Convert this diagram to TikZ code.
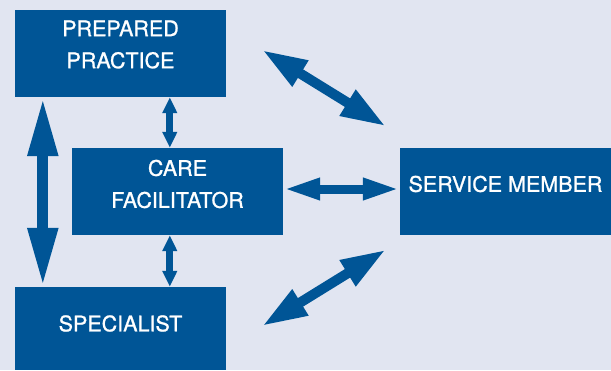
\documentclass[tikz,border=0pt]{standalone}
\usepackage{fontspec}
\setmainfont{TeX Gyre Heros}[FakeBold=1]
\usetikzlibrary{arrows.meta}
\definecolor{navy}{RGB}{0,85,150}
\definecolor{paper}{RGB}{225,229,241}
\tikzset{
  blk/.style={fill=navy, inner sep=0pt, minimum width=211pt, minimum height=87pt},
  lbl/.style={text=white, align=center, font=\fontsize{21.5}{32}\selectfont},
  bigarr/.style={navy, line width=11pt, {Triangle[length=59pt,width=28pt]}-{Triangle[length=59pt,width=28pt]}},
  smallarr/.style={navy, line width=7pt, {Triangle[length=16pt,width=14pt]}-{Triangle[length=16pt,width=14pt]}},
  midarr/.style={navy, line width=9pt, {Triangle[length=37pt,width=20pt]}-{Triangle[length=37pt,width=20pt]}},
  diagarr/.style={navy, line width=10pt, {Triangle[length=45pt,width=28pt]}-{Triangle[length=45pt,width=28pt]}}
}
\begin{document}
\begin{tikzpicture}[x=1pt,y=-1pt]
            \fill[paper] (0,0) rectangle (611,370);
            \useasboundingbox (0,0) rectangle (611,370);

            \node[blk, label={[lbl,yshift=9pt]center:PREPARED\\PRACTICE}] (pp) at (120.5,53.5) {};
            \node[blk, label={[lbl,yshift=7.5pt]center:CARE\\FACILITATOR}] (cf) at (177.5,191.5) {};
            \node[blk, minimum height=83pt, label={[lbl,yshift=5pt]center:SPECIALIST}] (sp) at (120.5,328.5) {};
            \node[blk, label={[lbl,yshift=7pt]center:SERVICE\ MEMBER}] (sm) at (505.5,191) {};

            \draw[bigarr] ([xshift=28pt]pp.south west) -- ([xshift=28pt]sp.north west);
            \draw[smallarr] ([xshift=155pt]pp.south west) -- ([xshift=155pt]pp.south west |- cf.north);
            \draw[smallarr] ([xshift=98pt]cf.south west) -- ([xshift=98pt]cf.south west |- sp.north);
            \draw[midarr] ([yshift=2.5pt]cf.east) -- ([yshift=2.5pt]cf.east -| sm.west);

            \draw[diagarr] ([shift={(36pt,3.5pt)}]pp.east) -- ([shift={(-14pt,21pt)}]sm.north west);
            \draw[diagarr] ([shift={(36pt,2.5pt)}]sp.east) -- ([shift={(-14pt,-15pt)}]sm.south west);
        \end{tikzpicture}
\end{document}
